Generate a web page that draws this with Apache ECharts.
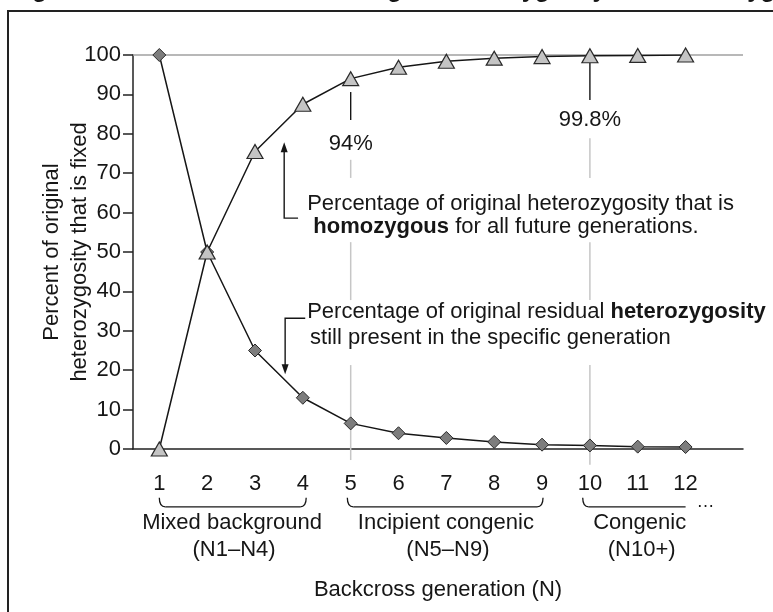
<!DOCTYPE html>
<html>
<head>
<meta charset="utf-8">
<script src="https://cdn.jsdelivr.net/npm/echarts@6/dist/echarts.min.js"></script>
<style>
html, body { margin: 0; padding: 0; background: #fff; }
#chart { width: 773px; height: 612px; }
</style>
</head>
<body>
<div id="chart"></div>
<script>
// backcross generation N1..N12
const generations = [1, 2, 3, 4, 5, 6, 7, 8, 9, 10, 11, 12];
// % of original heterozygosity now homozygous (fixed for good)
const homozygous = [0, 50, 75.5, 87.5, 94, 96.9, 98.4, 99.2, 99.6, 99.8, 99.9, 100];
// % of original heterozygosity still present
const heterozygous = [100, 50, 25, 13, 6.5, 4, 2.8, 1.8, 1.1, 0.9, 0.6, 0.5];

const groupNames = ['Mixed background', 'Incipient congenic', 'Congenic'];
const groupRanges = ['(N1–N4)', '(N5–N9)', '(N10+)'];
const groupSpans = [[1, 4.07], [4.93, 9.02], [9.85, 12]];
const groupCenters = [2.52, 6.99, 11.04];

const calloutGens = [5, 10];
const calloutLabels = ['94%', '99.8%'];

const FONT = 'Liberation Sans, Arial, Helvetica, sans-serif';
const INK = '#161616';
const FS = 22;

// gray guide lines at N5 / N10, broken where the text sits
const guideSegs = [
    [5, 73.4, 68.8], [5, 52.5, 37.8], [5, 21.3, -2.8],
    [10, 78.9, 68.8], [10, 52.5, 37.8], [10, 21.3, -4]
];
// short black leader from marker to the % label
const leaders = [[5, 90.6, 83.5], [10, 98.0, 88.6]];

function txt(x, y, text, opt) {
    return {
        type: 'text', x: x, y: y,
        style: Object.assign({
            text: text,
            fontSize: FS,
            fontFamily: FONT,
            fill: INK,
            align: 'left',
            verticalAlign: 'middle'
        }, opt || {})
    };
}

function line(a, b, style) {
    return {type: 'line', shape: {x1: a[0], y1: a[1], x2: b[0], y2: b[1]}, style: style};
}

const richBold = {
    b: {fontSize: FS, fontFamily: FONT, fontWeight: 'bold', fill: INK},
    n: {fontSize: FS, fontFamily: FONT, fill: INK}
};

function renderNotes(params, api) {
    const p = (x, y) => api.coord([x, y]);
    const kids = [];
    const gray = {stroke: '#c6c6c6', lineWidth: 1.5};
    const black = {stroke: INK, lineWidth: 1.4, fill: null};

    // top reference line at 100
    kids.push(line(p(0.45, 100), p(13.2, 100), {stroke: '#a0a0a0', lineWidth: 1.5}));

    guideSegs.forEach(s => kids.push(line(p(s[0], s[1]), p(s[0], s[2]), gray)));
    leaders.forEach(s => kids.push(line(p(s[0], s[1]), p(s[0], s[2]), black)));

    calloutGens.forEach((g, i) => {
        const c = p(g, i === 0 ? 77.4 : 83.5);
        kids.push(txt(c[0], c[1], calloutLabels[i], {align: 'center'}));
    });

    // homozygous note + up arrow
    let a = p(3.90, 58.6), b = p(3.61, 58.6), c = p(3.61, 77.6);
    kids.push({type: 'polyline', shape: {points: [a, b, [c[0], c[1] + 6]]}, style: black});
    kids.push({type: 'polygon', shape: {points: [[c[0] - 3.5, c[1] + 9], [c[0], c[1] - 1], [c[0] + 3.5, c[1] + 9]]}, style: {fill: INK}});
    let t = p(4.09, 62.2);
    kids.push(txt(t[0], t[1], 'Percentage of original heterozygosity that is'));
    t = p(4.22, 56.3);
    kids.push(txt(t[0], t[1], '{b|homozygous}{n| for all future generations.}', {rich: richBold}));

    // heterozygous note + down arrow
    a = p(4.05, 33.2); b = p(3.63, 33.2); c = p(3.63, 19.2);
    kids.push({type: 'polyline', shape: {points: [a, b, [c[0], c[1] - 6]]}, style: black});
    kids.push({type: 'polygon', shape: {points: [[c[0] - 3.5, c[1] - 9], [c[0], c[1] + 1], [c[0] + 3.5, c[1] - 9]]}, style: {fill: INK}});
    t = p(4.09, 34.8);
    kids.push(txt(t[0], t[1], '{n|Percentage of original residual }{b|heterozygosity}', {rich: richBold}));
    t = p(4.15, 28.2);
    kids.push(txt(t[0], t[1], 'still present in the specific generation'));

    // brackets under the axis
    groupSpans.forEach((s, i) => {
        const l0 = p(s[0], -12.4), l1 = p(s[0], -14.7);
        const r0 = p(s[1], -12.4), r1 = p(s[1], -14.7);
        const bs = {stroke: INK, lineWidth: 1.3, fill: null};
        kids.push({type: 'bezierCurve', shape: {x1: l0[0], y1: l0[1], x2: l0[0] + 6, y2: l1[1], cpx1: l0[0], cpy1: l1[1]}, style: bs});
        const open = i === groupSpans.length - 1;
        kids.push(line([l0[0] + 6, l1[1]], [open ? r1[0] : r1[0] - 6, l1[1]], bs));
        if (!open) {
            kids.push({type: 'bezierCurve', shape: {x1: r1[0] - 6, y1: r1[1], x2: r0[0], y2: r0[1], cpx1: r0[0], cpy1: r1[1]}, style: bs});
        }
        const n1 = p(groupCenters[i], -18.8), n2 = p(groupCenters[i], -25.7);
        kids.push(txt(n1[0], n1[1], groupNames[i], {align: 'center'}));
        kids.push(txt(n2[0] + 2, n2[1], groupRanges[i], {align: 'center'}));
    });
    const e = p(12.23, -13.4);
    kids.push(txt(e[0], e[1], '…', {fontSize: 18}));

    return {type: 'group', children: kids};
}

const chart = echarts.init(document.getElementById('chart'));
chart.setOption({
    animation: false,
    backgroundColor: '#fff',
    textStyle: {fontFamily: FONT},
    graphic: [
        {
            type: 'text', left: 11, top: -22, z: 10,
            style: {text: 'Figure 3.4 Effects of backcrossing on homozygosity and heterozygosity',
                font: 'bold 24px ' + FONT, fill: INK}
        },
        {
            type: 'rect', shape: {x: 8, y: 11, width: 900, height: 700}, z: 10,
            style: {fill: null, stroke: '#222', lineWidth: 2}
        }
    ],
    grid: {left: 133, right: 30, top: 55, bottom: 163},
    xAxis: {
        type: 'value',
        min: 0.45,
        max: 13.2,
        splitNumber: 13,
        minInterval: 1,
        maxInterval: 1,
        name: 'Backcross generation (N)',
        nameLocation: 'middle',
        nameGap: 130,
        nameMoveOverlap: false,
        nameTextStyle: {fontSize: FS, color: INK, fontFamily: FONT},
        axisLine: {lineStyle: {color: '#222', width: 1.5}},
        axisTick: {show: false},
        splitLine: {show: false},
        axisLabel: {
            margin: 24,
            fontSize: FS,
            color: INK,
            fontFamily: FONT,
            showMinLabel: false,
            showMaxLabel: false,
            formatter: v => (generations.indexOf(v) >= 0 ? String(v) : '')
        }
    },
    yAxis: {
        type: 'value',
        min: 0,
        max: 100,
        interval: 10,
        name: 'Percent of original\nheterozygosity that is fixed',
        nameLocation: 'middle',
        nameRotate: 90,
        nameGap: 39,
        nameMoveOverlap: false,
        nameTextStyle: {fontSize: FS, lineHeight: 28, color: INK, fontFamily: FONT},
        axisLine: {show: true, lineStyle: {color: '#222', width: 1.5}},
        axisTick: {show: true, length: 10, lineStyle: {color: '#222', width: 1.5}},
        splitLine: {show: false},
        axisLabel: {margin: 12, fontSize: FS, color: INK, fontFamily: FONT}
    },
    series: [
        {
            type: 'custom',
            z: 1,
            silent: true,
            clip: false,
            data: [[1, 0]],
            renderItem: renderNotes
        },
        {
            name: 'Heterozygous',
            type: 'line',
            z: 3,
            data: generations.map((g, i) => [g, heterozygous[i]]),
            symbol: 'diamond',
            symbolSize: 13,
            lineStyle: {color: INK, width: 1.5},
            itemStyle: {color: '#7d7d7d', borderColor: '#2a2a2a', borderWidth: 1}
        },
        {
            name: 'Homozygous',
            type: 'line',
            z: 4,
            data: generations.map((g, i) => [g, homozygous[i]]),
            symbol: 'triangle',
            symbolSize: [16, 14],
            lineStyle: {color: INK, width: 1.5},
            itemStyle: {color: '#c4c4c4', borderColor: '#2a2a2a', borderWidth: 1.2}
        }
    ]
});
</script>
</body>
</html>
